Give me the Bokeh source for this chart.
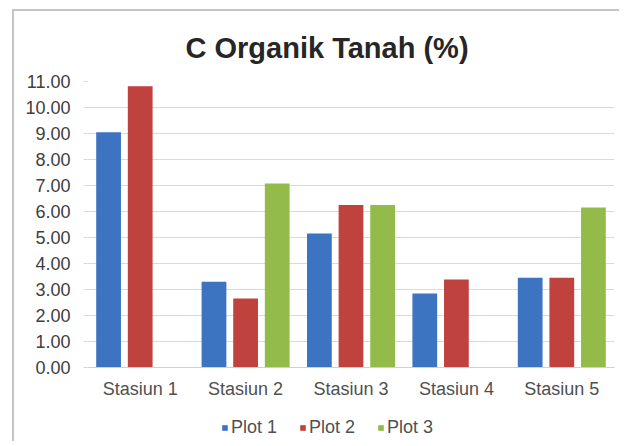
from bokeh.plotting import figure
from bokeh.layouts import column
from bokeh.models import FactorRange, FixedTicker, NumeralTickFormatter, Legend, LegendItem, ColumnDataSource
from bokeh.transform import dodge
from bokeh.embed import file_html
from bokeh.resources import INLINE

categories = ["Stasiun 1", "Stasiun 2", "Stasiun 3", "Stasiun 4", "Stasiun 5"]
plot1 = [9.05, 3.30, 5.15, 2.85, 3.45]
plot2 = [10.82, 2.65, 6.25, 3.38, 3.45]
plot3 = [0.0, 7.08, 6.25, 0.0, 6.15]
series_names = ["Plot 1", "Plot 2", "Plot 3"]
series_colors = ["#3D74C1", "#C0423F", "#92BB4A"]
y_ticks = [0, 1, 2, 3, 4, 5, 6, 7, 8, 9, 10, 11]

source = ColumnDataSource(data=dict(cat=categories, p1=plot1, p2=plot2, p3=plot3))

p = figure(x_range=FactorRange(*categories), y_range=(0, 11),
           width=605, height=395, output_backend="svg", toolbar_location=None,
           min_border_left=73, min_border_right=5, min_border_top=69, min_border_bottom=39)

p.title.text = "C Organik Tanah (%)"
p.title.align = "left"
p.title.text_font = "Liberation Sans"
p.title.text_font_size = "29px"
p.title.text_font_style = "bold"
p.title.text_color = "#262626"
p.title.standoff = 36
p.title.offset = 98

offsets = [-0.3, 0.0, 0.3]
cols = ["p1", "p2", "p3"]
for col, off, color in zip(cols, offsets, series_colors):
    p.vbar(x=dodge("cat", off, range=p.x_range), top=col, width=0.235, source=source,
           fill_color=color, line_color=None)

p.yaxis.ticker = FixedTicker(ticks=y_ticks)
p.yaxis.formatter = NumeralTickFormatter(format="0.00")
p.yaxis.axis_line_color = None
p.yaxis.major_tick_line_color = "#d9d9d9"
p.yaxis.major_tick_out = 4
p.yaxis.major_tick_in = 0
p.yaxis.minor_tick_line_color = None
p.yaxis.major_label_standoff = 13
p.yaxis.major_label_text_font = "Liberation Sans"
p.yaxis.major_label_text_font_size = "18px"
p.yaxis.major_label_text_color = "#404040"

p.xaxis.axis_line_color = "#d0d0d0"
p.xaxis.major_tick_line_color = None
p.xaxis.minor_tick_line_color = None
p.xaxis.major_label_standoff = 5
p.xaxis.major_label_text_font = "Liberation Sans"
p.xaxis.major_label_text_font_size = "18px"
p.xaxis.major_label_text_color = "#505050"

p.xgrid.grid_line_color = None
p.ygrid.grid_line_color = "#dadada"
p.ygrid.grid_line_width = 1
p.outline_line_color = None
p.background_fill_color = "white"
p.border_fill_color = "white"

# legend in its own strip below the chart; its bars lie below its (empty) visible y window
lf = figure(x_range=FactorRange(*categories), y_range=(100, 101),
            width=605, height=35, output_backend="svg", toolbar_location=None, min_border=0)
lf.axis.visible = False
lf.grid.grid_line_color = None
lf.outline_line_color = None
items = []
for name, col, off, color in zip(series_names, cols, offsets, series_colors):
    r = lf.vbar(x=dodge("cat", off, range=lf.x_range), top=col, width=0.235, source=source,
                fill_color=color, line_color=None)
    items.append(LegendItem(label=name, renderers=[r]))
legend = Legend(items=items, orientation="horizontal", location=(134, 3),
                glyph_width=7, glyph_height=7, label_text_font="Liberation Sans",
                label_text_font_size="18px", label_text_color="#505050",
                border_line_color=None, background_fill_alpha=0,
                spacing=22, label_standoff=3, padding=2, margin=0)
lf.add_layout(legend, "center")

layout = column(p, lf, spacing=0)
layout.margin = (9, 0, 0, 12)
layout.styles = {"border-top": "2px solid #c4c4c4", "border-left": "2px solid #c4c4c4"}

open("out.html", "w").write(file_html(layout, INLINE))
